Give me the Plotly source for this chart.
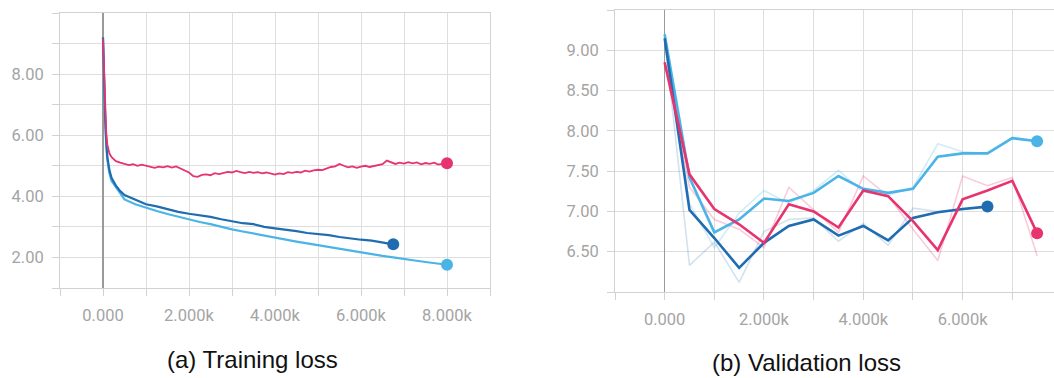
import plotly.graph_objects as go

# ---------------- Training loss (a) ----------------
train_steps_pink = [0, 25, 50, 75, 100, 150, 200, 300, 400] + list(range(500, 8001, 100))
train_pink = [9.15, 7.9, 6.9, 6.1, 5.7, 5.4, 5.28, 5.15, 5.1,
              5.06, 5.02, 5.05, 5.0, 5.04, 5.01, 4.97, 4.93, 4.97, 4.95,
              4.99, 4.94, 4.98, 4.92, 4.84, 4.78, 4.66, 4.64, 4.7, 4.72,
              4.69, 4.76, 4.73, 4.77, 4.8, 4.78, 4.83, 4.79, 4.76, 4.8,
              4.77, 4.79, 4.75, 4.78, 4.74, 4.71, 4.75, 4.73, 4.79, 4.77,
              4.8, 4.78, 4.84, 4.81, 4.85, 4.87, 4.86, 4.92, 4.96, 4.98,
              5.06, 5.0, 4.95, 4.98, 4.93, 4.97, 5.0, 4.96, 4.99, 5.02,
              5.05, 5.17, 5.12, 5.06, 5.1, 5.07, 5.12, 5.08, 5.11, 5.05,
              5.09, 5.06, 5.1, 5.04, 5.07, 5.08]

train_steps_dark = [0, 25, 50, 75, 100, 150, 200, 300, 400] + list(range(500, 6751, 250))
train_dark = [9.2, 7.7, 6.6, 5.8, 5.3, 4.85, 4.6, 4.35, 4.17,
              4.04, 3.88, 3.74, 3.67, 3.58, 3.49, 3.43, 3.38, 3.33, 3.25,
              3.18, 3.12, 3.09, 3.0, 2.95, 2.91, 2.86, 2.8, 2.77, 2.73,
              2.67, 2.62, 2.58, 2.55, 2.48, 2.43]

train_steps_light = [0, 25, 50, 75, 100, 150, 200, 300, 400] + list(range(500, 8001, 250))
train_light = [9.2, 7.6, 6.5, 5.7, 5.2, 4.75, 4.5, 4.3, 4.08,
               3.9, 3.74, 3.62, 3.52, 3.42, 3.33, 3.24, 3.16, 3.09, 3.0,
               2.92, 2.85, 2.78, 2.71, 2.64, 2.58, 2.52, 2.46, 2.4, 2.34,
               2.28, 2.21, 2.15, 2.1, 2.05, 2.0, 1.96, 1.9, 1.85, 1.8, 1.76]

# ---------------- Validation loss (b) ----------------
val_steps = [0, 500, 1000, 1500, 2000, 2500, 3000, 3500, 4000, 4500,
             5000, 5500, 6000, 6500, 7000, 7500]
val_light_smooth = [9.2, 7.42, 6.74, 6.90, 7.16, 7.13, 7.23, 7.44, 7.28, 7.23,
                    7.28, 7.68, 7.72, 7.72, 7.91, 7.87]
val_light_raw = [9.2, 7.1, 6.55, 6.98, 7.26, 7.10, 7.26, 7.51, 7.24, 7.2,
                 7.3, 7.84, 7.74, 7.72, 7.92, 7.88]
val_dark_smooth = [9.15, 7.02, 6.67, 6.30, 6.61, 6.82, 6.90, 6.70, 6.82, 6.64,
                   6.92, 6.99, 7.03, 7.06]
val_dark_raw = [9.15, 6.33, 6.62, 6.12, 6.75, 6.90, 6.92, 6.63, 6.85, 6.58,
                7.04, 7.0, 7.02, 7.07]
val_pink_smooth = [8.85, 7.46, 7.03, 6.84, 6.61, 7.09, 7.0, 6.8, 7.26, 7.19,
                   6.88, 6.52, 7.15, 7.26, 7.38, 6.73]
val_pink_raw = [8.85, 7.3, 6.9, 6.78, 6.55, 7.30, 7.02, 6.74, 7.44, 7.19,
                6.78, 6.39, 7.44, 7.32, 7.42, 6.45]

# tick labels
x_tickvals = list(range(-1000, 9001, 1000))
x_ticktext = ["" if v % 2000 else ("0.000" if v == 0 else f"{v/1000:.3f}k") for v in x_tickvals]
ya_tickvals = list(range(1, 11))
ya_ticktext = ["", "2.00", "", "4.00", "", "6.00", "", "8.00", "", ""]
yb_tickvals = [6.0, 6.5, 7.0, 7.5, 8.0, 8.5, 9.0, 9.5]
yb_ticktext = ["", "6.50", "7.00", "7.50", "8.00", "8.50", "9.00", ""]

PINK = "#e7336e"
DARK = "#1f6cb0"
LIGHT = "#4bb4e6"

fig = go.Figure()

def line(x, y, color, xa, ya, width=2.2, opacity=1.0, dot=True):
    fig.add_trace(go.Scatter(x=x, y=y, mode="lines", line=dict(color=color, width=width),
                             opacity=opacity, xaxis=xa, yaxis=ya, hoverinfo="skip"))
    if dot:
        fig.add_trace(go.Scatter(x=[x[-1]], y=[y[-1]], mode="markers",
                                 marker=dict(color=color, size=12), xaxis=xa, yaxis=ya,
                                 hoverinfo="skip"))

# (a)
line(train_steps_light, train_light, LIGHT, "x", "y")
line(train_steps_dark, train_dark, DARK, "x", "y")
line(train_steps_pink, train_pink, PINK, "x", "y", width=1.8)

# (b) raw faint lines
line(val_steps, val_light_raw, LIGHT, "x2", "y2", width=1.6, opacity=0.25, dot=False)
line(val_steps[:len(val_dark_raw)], val_dark_raw, DARK, "x2", "y2", width=1.6, opacity=0.2, dot=False)
line(val_steps, val_pink_raw, PINK, "x2", "y2", width=1.6, opacity=0.25, dot=False)
# smoothed
line(val_steps, val_light_smooth, LIGHT, "x2", "y2", width=2.6)
line(val_steps[:len(val_dark_smooth)], val_dark_smooth, DARK, "x2", "y2", width=2.6)
line(val_steps, val_pink_smooth, PINK, "x2", "y2", width=2.6)

GRID = "#dedede"
LINE = "#d2d2d2"
TICKFONT = dict(family="Roboto, Arial, sans-serif", size=16.5, color="#a4a4a4")

common_x = dict(tickmode="array", tickvals=x_tickvals, ticktext=x_ticktext,
                showgrid=True, gridcolor=GRID, gridwidth=1,
                zeroline=True, zerolinecolor="#9a9a9a", zerolinewidth=1.6,
                showline=True, mirror=True, linecolor=LINE, linewidth=1,
                ticks="outside", ticklen=7, tickcolor=LINE, tickfont=TICKFONT,
                ticklabelstandoff=5, fixedrange=True)
common_y = dict(tickmode="array", showgrid=True, gridcolor=GRID, gridwidth=1,
                zeroline=False, showline=True, mirror=True, linecolor=LINE, linewidth=1,
                ticks="outside", ticklen=7, tickcolor=LINE, tickfont=TICKFONT,
                ticklabelstandoff=5, fixedrange=True)

W, H = 1054, 378
fig.update_layout(
    width=W, height=H,
    margin=dict(l=0, r=0, t=0, b=0),
    paper_bgcolor="white", plot_bgcolor="white",
    showlegend=False,
    xaxis=dict(domain=[60 / W, 490 / W], range=[-1000, 9000], anchor="y", **common_x),
    yaxis=dict(domain=[1 - 288 / H, 1 - 13 / H], range=[1, 10], anchor="x",
               tickvals=ya_tickvals, ticktext=ya_ticktext, **common_y),
    xaxis2=dict(domain=[615 / W, 1.0], range=[-1000, 7840], anchor="y2", **common_x),
    yaxis2=dict(domain=[1 - 292 / H, 1 - 10 / H], range=[6.0, 9.5], anchor="x2",
                tickvals=yb_tickvals, ticktext=yb_ticktext, **common_y),
    annotations=[
        dict(text="(a) Training loss", x=252.5 / W, y=1 - 359 / H, xref="paper", yref="paper",
             showarrow=False, xanchor="center", yanchor="middle",
             font=dict(family="Liberation Sans, Arial, sans-serif", size=24, color="#111")),
        dict(text="(b) Validation loss", x=806.5 / W, y=1 - 362 / H, xref="paper", yref="paper",
             showarrow=False, xanchor="center", yanchor="middle",
             font=dict(family="Liberation Sans, Arial, sans-serif", size=24, color="#111")),
    ],
)

fig.write_html("out.html", config={"displayModeBar": False, "staticPlot": True},
               post_script="document.body.style.margin='0';")
